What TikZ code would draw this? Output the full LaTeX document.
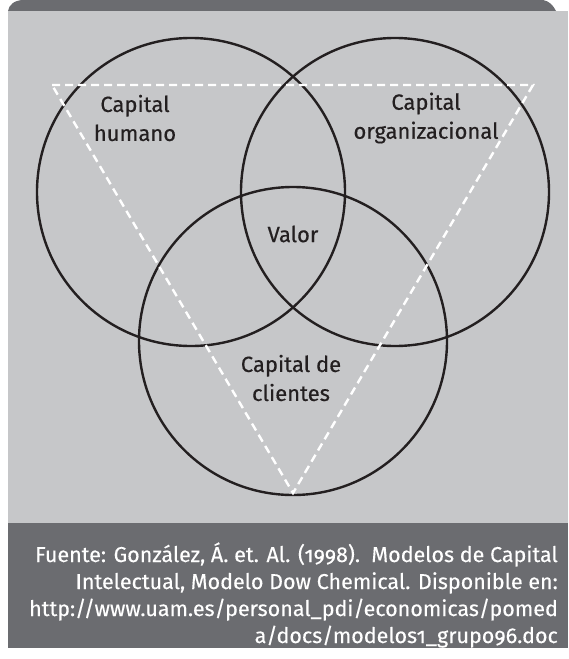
\documentclass[tikz,border=0pt]{standalone}
\usepackage{fontspec}
\setmainfont{Fira Sans}[Numbers=OldStyle]
\newfontfamily\lblfont{Fira Sans}[Numbers=OldStyle, FakeBold=0.4]
\newfontfamily\capfont{Fira Sans}[Numbers=OldStyle, FakeBold=0.3]
\definecolor{darkg}{HTML}{6B6C70}
\definecolor{lightg}{HTML}{C6C7C9}
\definecolor{ink}{HTML}{231F20}
\tikzset{
  ring/.style={circle, draw=ink, line width=2.4pt, minimum size=308pt, inner sep=0pt},
  lbl/.style={text=ink, align=center, font=\lblfont\fontsize{22}{29}\selectfont, inner sep=0pt},
  capline/.style={anchor=base east, inner sep=0pt, text=white, font=\capfont\fontsize{21.5}{27}\selectfont},
  tri/.style={draw=white, line width=2.4pt, dash pattern=on 8pt off 5pt},
}
\begin{document}
\begin{tikzpicture}[x=1pt,y=-1pt]
\useasboundingbox (0,0) rectangle (568,659);
\fill[white] (0,0) rectangle (568,659);
% top bar (cut off)
\fill[darkg] (8,11) .. controls (9,5) and (14,0) .. (24,0) -- (543,0) .. controls (549,1) and (553,5) .. (556,11) -- cycle;
% light panel
\fill[lightg] (8,11) rectangle (568,523);
% bottom caption box
\fill[darkg] (8,523) rectangle (568,648);
% circles
\node[ring] (hum) at (191,192) {};
\node[ring] (org) at (395,192) {};
\node[ring] (cli) at (293,341) {};
% triangle
\coordinate (tl) at (52,85);
\coordinate (tr) at (533,85);
\coordinate (bt) at (293,493);
\draw[tri] (tl) -- (tr) -- (bt) -- cycle;
% labels
\node[lbl] (lh) at (135,118) {Capital\\humano};
\node[lbl] (lo) at (426,118) {Capital\\organizacional};
\node[lbl] (lv) at (293,234) {Valor};
\node[lbl] (lc) at (291,378) {Capital de\\clientes};
% caption
\node[capline] (cap1) at (558,562) {Fuente: González, Á. et. Al. (1998).\ \ Modelos de Capital};
\node[capline] (cap2) at (558,589) {Intelectual, Modelo Dow Chemical. Disponible en:};
\node[capline] (cap3) at (558,616) {http://www.uam.es/personal\_pdi/economicas/pomed};
\node[capline] (cap4) at (558,643) {a/docs/modelos1\_grupo96.doc};
\end{tikzpicture}
\end{document}
